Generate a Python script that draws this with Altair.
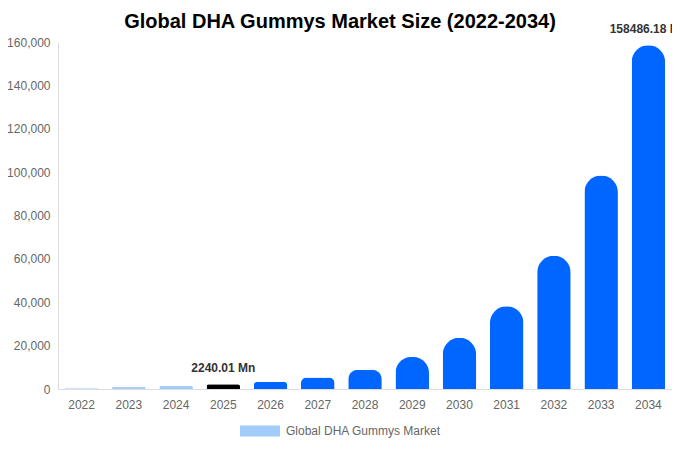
import altair as alt
import pandas as pd

years = [str(y) for y in range(2022, 2035)]
values = [650, 1000, 1480, 2240.01, 3350, 5300, 8900, 14800, 23600, 38200, 61400, 98500, 158486.18]
bar_colors = ["#cfe5fd", "#a6cffb", "#a0cbfa", "#000000"] + ["#0066ff"] * 9
labels = ["", "", "", "2240.01 Mn", "", "", "", "", "", "", "", "", "158486.18 Mn"]
series_name = "Global DHA Gummys Market"

df = pd.DataFrame({"year": years, "value": values, "color": bar_colors, "label": labels})
leg_df = pd.DataFrame({"year": ["2022"], "value": [0], "series": [series_name]})

FONT = "Liberation Sans"

xenc = alt.X("year:N", sort=years, title=None,
             scale=alt.Scale(paddingInner=0.29, paddingOuter=0.145),
             axis=alt.Axis(labelAngle=0, ticks=False, labelPadding=10, labelColor="#666",
                           labelFontSize=12, domainColor="#dddddd", labelFont=FONT))
yenc = alt.Y("value:Q", title=None,
             scale=alt.Scale(domain=[0, 160000], nice=False),
             axis=alt.Axis(values=list(range(0, 160001, 20000)), format=",.0f", ticks=False,
                           grid=False, labelPadding=8, labelColor="#666", labelFontSize=12,
                           domainColor="#dddddd", labelFont=FONT))

bars = alt.Chart(df).mark_bar(cornerRadiusTopLeft=17, cornerRadiusTopRight=17).encode(
    x=xenc, y=yenc, color=alt.Color("color:N", scale=None, legend=None)
)

text = alt.Chart(df).mark_text(baseline="bottom", dy=-9, fontWeight="bold", fontSize=12,
                               color="#333", font=FONT).encode(
    x=xenc, y=yenc, text="label:N"
)

legend_layer = alt.Chart(leg_df).mark_bar().encode(
    x=xenc, y=yenc,
    color=alt.Color("series:N", scale=alt.Scale(range=["#a0cbfa"]),
                    legend=alt.Legend(title=None, orient="none", legendX=182, legendY=369,
                                      symbolType="M-1,-0.275H1V0.275H-1Z", symbolSize=1600,
                                      symbolOpacity=1, symbolStrokeWidth=0,
                                      symbolFillColor="#a0cbfa",
                                      labelFontSize=12, labelColor="#666", labelFont=FONT,
                                      labelOffset=6))
)

chart = alt.layer(bars, text, legend_layer).resolve_scale(color="independent").properties(
    width=614, height=347,
    title=alt.Title("Global DHA Gummys Market Size (2022-2034)", fontSize=20, fontWeight="bold",
                    color="#000", font=FONT, anchor="middle", dx=-25, dy=21, offset=12),
    autosize=alt.AutoSizeParams(type="none"),
    padding={"left": 50, "top": 34, "right": 0, "bottom": 51},
).configure_view(stroke=None)

chart.save("out.html", embed_options={"renderer": "svg", "actions": False})
